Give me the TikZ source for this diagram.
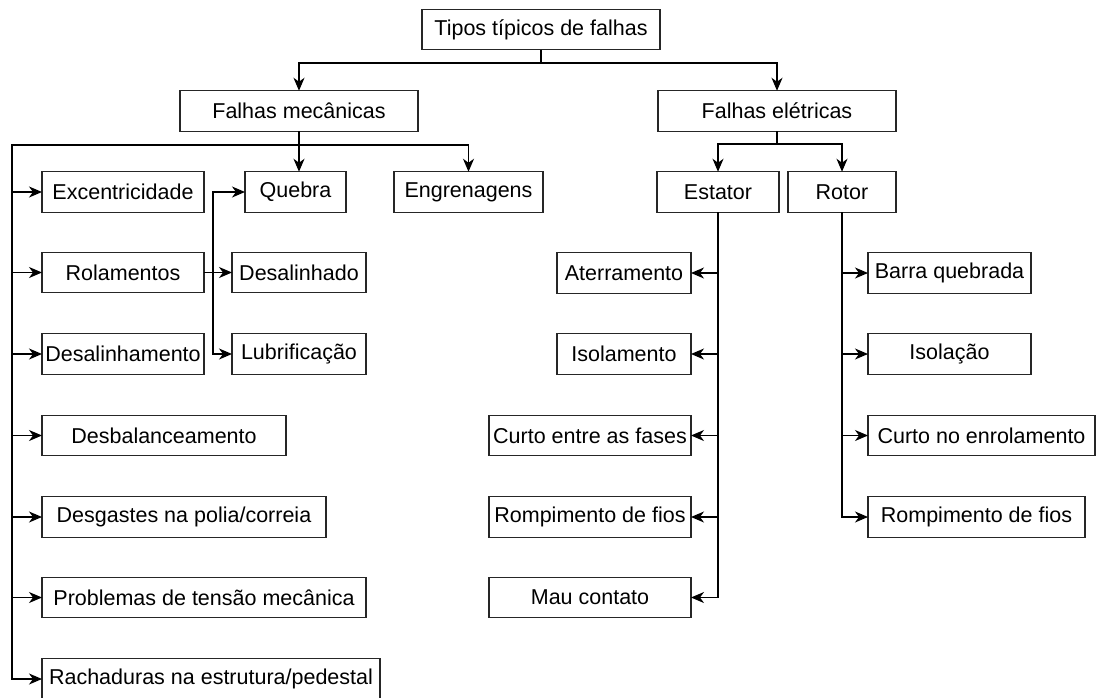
\documentclass[tikz,border=0pt]{standalone}
\usepackage{fontspec}
\setmainfont{Liberation Sans}
\usetikzlibrary{arrows.meta}
\tikzset{
  box/.style={draw=black!85, line width=1.1pt, fill=white, inner sep=0pt, outer sep=0pt,
    font=\fontsize{21.5}{24}\selectfont, minimum height=40.5pt},
  arr/.style={draw=black, line width=1.2pt, -{Stealth[length=13pt,width=11pt,inset=4pt]}}
}
\begin{document}
\begin{tikzpicture}[x=1pt,y=1pt]
\useasboundingbox (0,0) rectangle (1096,-697);

% top levels
\node[box, minimum width=238pt] (tipos) at (541,-29.5) {Tipos típicos de falhas};
\node[box, minimum width=238pt] (fm) at (299,-111) {Falhas mecânicas};
\node[box, minimum width=238pt] (fe) at (777,-111) {Falhas elétricas};

% mechanical faults
\node[box, minimum width=162pt] (exc) at (123,-192) {Excentricidade};
\node[box, minimum width=101pt] (queb) at (295.5,-192) {Quebra};
\node[box, minimum width=149pt] (engr) at (468.5,-192) {Engrenagens};
\node[box, minimum width=162pt] (rol) at (123,-272.5) {Rolamentos};
\node[box, minimum width=134pt] (desal) at (299,-272.5) {Desalinhado};
\node[box, minimum width=162pt] (desalm) at (123,-354) {Desalinhamento};
\node[box, minimum width=134pt] (lub) at (299,-354) {Lubrificação};
\node[box, minimum width=244pt] (desb) at (164,-435.5) {Desbalanceamento};
\node[box, minimum width=284pt] (desg) at (184,-517) {Desgastes na polia/correia};
\node[box, minimum width=324pt] (prob) at (204,-597.5) {Problemas de tensão mecânica};
\node[box, minimum width=338pt] (rach) at (211,-679) {Rachaduras na estrutura/pedestal};

% electrical faults
\node[box, minimum width=122pt] (est) at (718,-192) {Estator};
\node[box, minimum width=108pt] (rot) at (842,-192) {Rotor};
\node[box, minimum width=134pt] (ater) at (624,-273) {Aterramento};
\node[box, minimum width=134pt] (isol) at (624,-354) {Isolamento};
\node[box, minimum width=202pt] (curtof) at (590,-435.5) {Curto entre as fases};
\node[box, minimum width=202pt] (rompl) at (590,-517) {Rompimento de fios};
\node[box, minimum width=202pt] (mau) at (590,-597.5) {Mau contato};
\node[box, minimum width=163pt] (barra) at (949.5,-273) {Barra quebrada};
\node[box, minimum width=163pt] (isolc) at (949.5,-354) {Isolação};
\node[box, minimum width=227pt] (curtoe) at (981.5,-435.5) {Curto no enrolamento};
\node[box, minimum width=217pt] (rompr) at (976.5,-517) {Rompimento de fios};

% junction points of the orthogonal connectors
\coordinate (jt) at (541,-63);
\coordinate (jm) at (299,-145);
\coordinate (mtrunk) at (12,-145);
\coordinate (je) at (777,-144);
\coordinate (rj) at (213,-272.5);

% root
\draw[arr] (tipos.south) -- (jt) -| (fm.north);
\draw[arr] (tipos.south) -- (jt) -| (fe.north);

% mechanical branch
\draw[arr] (fm.south) -- (jm) -| (engr.north);
\draw[arr] (fm.south) -- (fm.south |- queb.north);
\foreach \n in {exc,rol,desalm,desb,desg,prob,rach}
  \draw[arr] (fm.south) -- (jm) -- (mtrunk) |- (\n.west);

% bearings
\draw[arr] (rol.east) -- (rj) |- (queb.west);
\draw[arr] (rol.east) -- (desal.west);
\draw[arr] (rol.east) -- (rj) |- (lub.west);

% electrical branch
\draw[arr] (fe.south) -- (je) -| (est.north);
\draw[arr] (fe.south) -- (je) -| (rot.north);
\foreach \n in {ater,isol,curtof,rompl,mau}
  \draw[arr] (est.south) |- (\n.east);
\foreach \n in {barra,isolc,curtoe,rompr}
  \draw[arr] (rot.south) |- (\n.west);
\end{tikzpicture}
\end{document}
